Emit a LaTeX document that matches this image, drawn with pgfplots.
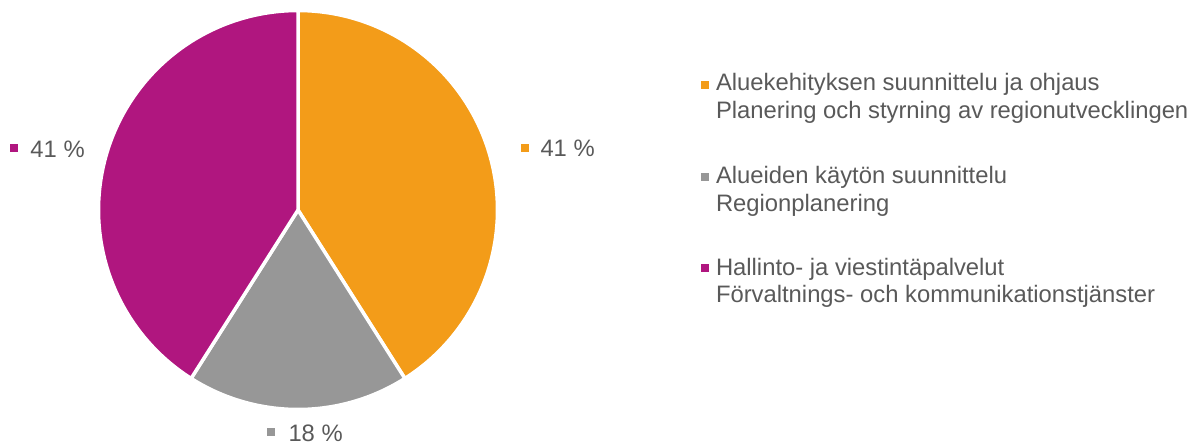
\documentclass[border=0pt]{standalone}
\usepackage{pgfplots}
\usepackage{pgfplotstable}
\pgfplotsset{compat=1.18}
\usepackage{fontspec}
\setmainfont{Liberation Sans}
\definecolor{cOrange}{HTML}{F39C19}
\definecolor{cGray}{HTML}{979797}
\definecolor{cMag}{HTML}{B0167F}
\definecolor{cText}{HTML}{595959}
\tikzset{lab/.style={anchor=base west, inner sep=0pt, outer sep=0pt, text=cText, font=\fontsize{23.8}{27.5}\selectfont}}

\pgfplotstableread{
share
41
18
41
}\piedata

\begin{document}%
\begin{tikzpicture}
\pgfplotstablegetelem{0}{share}\of\piedata \let\va\pgfplotsretval
\pgfplotstablegetelem{1}{share}\of\piedata \let\vb\pgfplotsretval
\pgfplotstablegetelem{2}{share}\of\piedata \let\vc\pgfplotsretval
\pgfmathsetmacro{\aA}{90}
\pgfmathsetmacro{\aB}{90-3.6*\va}
\pgfmathsetmacro{\aC}{\aB-3.6*\vb}
\pgfmathsetmacro{\aD}{\aC-3.6*\vc}
\begin{axis}[
  name=ax,
  width=1202pt, height=445pt, scale only axis,
  xmin=0, xmax=1202, ymin=0, ymax=445,
  hide axis, clip=false,
]
% pie slices (centre 298,235; radius 199.5)
\addplot[fill=cOrange, draw=white, line width=3.5pt, domain=\aB:\aA, samples=120, variable=\t]
  ({298+199.5*cos(\t)},{235+199.5*sin(\t)}) -- (axis cs:298,235) -- cycle;
\addplot[fill=cGray, draw=white, line width=3.5pt, domain=\aC:\aB, samples=80, variable=\t]
  ({298+199.5*cos(\t)},{235+199.5*sin(\t)}) -- (axis cs:298,235) -- cycle;
\addplot[fill=cMag, draw=white, line width=3.5pt, domain=\aD:\aC, samples=120, variable=\t]
  ({298+199.5*cos(\t)},{235+199.5*sin(\t)}) -- (axis cs:298,235) -- cycle;

% marker squares (data labels and legend)
\addplot[only marks, mark=square*, mark size=3.5pt, color=cOrange] coordinates {(524.5,297.5) (705,360.5)};
\addplot[only marks, mark=square*, mark size=3.5pt, color=cGray] coordinates {(270.5,13) (705,268.3)};
\addplot[only marks, mark=square*, mark size=3.5pt, color=cMag] coordinates {(13.5,297) (705,177.5)};

% data labels
\node[lab] at (axis cs:540.5,288) {41 \%};
\node[lab] at (axis cs:30.5,287) {41 \%};
\node[lab] at (axis cs:288.5,4) {18 \%};

% legend text
\node[lab] at (axis cs:716,354) {Aluekehityksen suunnittelu ja ohjaus};
\node[lab] at (axis cs:716,326) {Planering och styrning av regionutvecklingen};
\node[lab] at (axis cs:716,261) {Alueiden käytön suunnittelu};
\node[lab] at (axis cs:716,233.5) {Regionplanering};
\node[lab] at (axis cs:716,170) {Hallinto- ja viestintäpalvelut};
\node[lab] at (axis cs:716,143) {Förvaltnings- och kommunikationstjänster};
\end{axis}
\pgfresetboundingbox
\path[use as bounding box] (ax.south west) rectangle (ax.north east);
\end{tikzpicture}%
\end{document}
